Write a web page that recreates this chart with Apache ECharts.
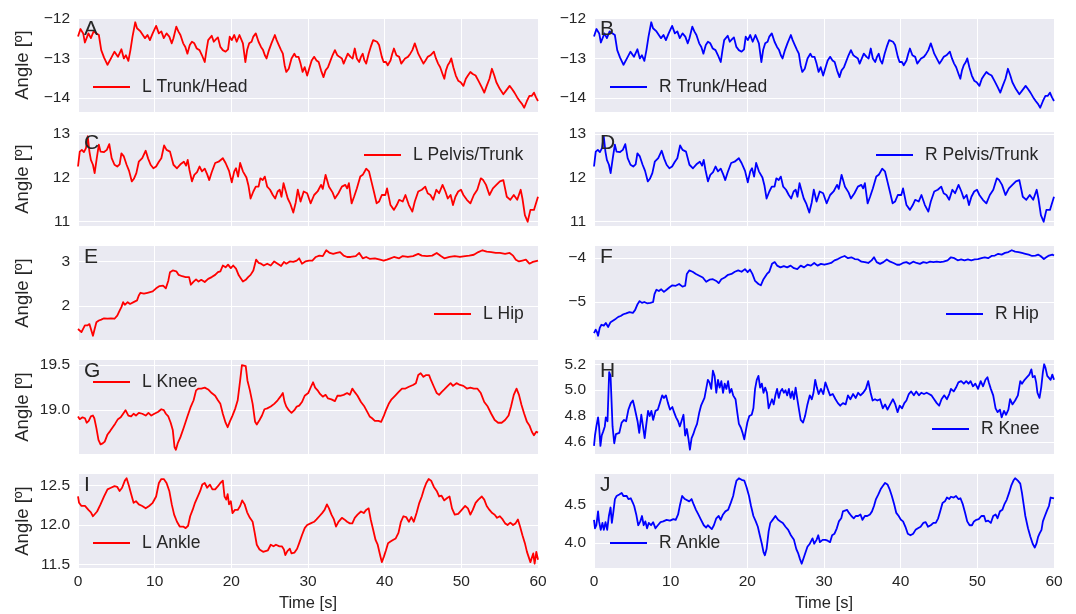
<!DOCTYPE html>
<html>
<head>
<meta charset="utf-8">
<title>Joint angles</title>
<script src="https://cdn.jsdelivr.net/npm/echarts@6/dist/echarts.min.js"></script>
<style>
  html, body { margin: 0; padding: 0; background: #ffffff; }
  #chart { width: 1076px; height: 614px; }
</style>
</head>
<body>
<div id="chart"></div>
<script>
// ---- Data: time stamps [s] and joint angles [deg] ----
const tTrunkHead = [0,0.32,0.68,0.9,1.36,1.68,2.04,2.26,2.72,3.03,3.4,3.85,4.3,4.76,5.21,5.43,5.66,5.98,6.25,6.57,6.84,7.11,7.47,7.7,7.93,8.15,8.38,8.74,9.06,9.38,9.74,10.19,10.55,10.87,11.19,11.55,11.91,12.23,12.45,12.82,13.09,13.36,13.72,14.0,14.27,14.58,14.86,15.17,15.49,15.85,16.17,16.53,16.76,16.98,17.21,17.44,17.71,17.98,18.25,18.57,18.89,19.25,19.57,19.79,20.06,20.38,20.7,21.06,21.29,21.51,21.83,22.06,22.33,22.64,22.87,23.19,23.55,23.87,24.14,24.37,24.59,24.91,25.23,25.68,25.91,26.18,26.49,26.72,26.95,27.17,27.49,27.85,28.22,28.44,28.76,29.03,29.3,29.57,29.89,30.21,30.48,30.8,31.11,31.39,31.7,32.02,32.29,32.61,32.84,33.2,33.51,33.83,34.1,34.42,34.65,34.87,35.19,35.55,35.82,36.1,36.37,36.68,36.91,37.14,37.36,37.59,37.91,38.18,38.5,38.72,39.0,39.27,39.63,39.86,40.17,40.4,40.76,40.99,41.21,41.53,41.89,42.16,42.35,42.66,43.03,43.34,43.61,43.93,44.16,44.38,44.7,45.06,45.33,45.61,45.97,46.2,46.42,46.69,46.97,47.24,47.55,47.78,48.0,48.23,48.5,48.69,48.96,49.28,49.59,49.91,50.27,50.59,50.86,51.18,51.49,51.86,52.22,52.67,52.99,53.31,53.67,53.99,54.3,54.57,55.03,55.48,55.84,56.3,56.61,56.93,57.29,57.61,57.93,58.2,58.56,58.88,59.2,59.47,59.74,60];
const lTrunkHead = [-12.45,-12.26,-12.37,-12.6,-12.37,-12.49,-12.32,-12.28,-12.41,-12.79,-12.98,-13.16,-13.0,-12.83,-12.96,-13.0,-12.77,-13.0,-12.92,-13.06,-12.79,-12.45,-12.09,-12.24,-12.2,-12.32,-12.28,-12.49,-12.41,-12.54,-12.37,-12.18,-12.37,-12.32,-12.49,-12.37,-12.45,-12.62,-12.49,-12.2,-12.32,-12.41,-12.62,-12.71,-12.88,-12.66,-12.58,-12.62,-12.75,-12.79,-12.92,-13.09,-12.79,-12.54,-12.49,-12.43,-12.58,-12.52,-12.47,-12.71,-12.79,-12.83,-12.77,-12.45,-12.54,-12.41,-12.58,-12.41,-12.37,-12.62,-13.09,-12.79,-12.62,-12.58,-12.45,-12.37,-12.58,-12.71,-12.79,-12.92,-13.0,-12.79,-12.62,-12.41,-12.54,-12.66,-12.79,-12.88,-13.17,-13.34,-13.26,-13.0,-12.88,-12.96,-12.96,-13.13,-13.34,-13.22,-13.43,-13.22,-13.05,-12.96,-13.05,-13.09,-13.3,-13.47,-13.3,-13.22,-13.17,-12.92,-12.79,-12.92,-12.96,-13.0,-13.13,-13.13,-12.88,-12.96,-13.0,-12.75,-13.0,-13.09,-12.96,-12.88,-13.05,-13.13,-12.88,-12.71,-12.54,-12.49,-12.58,-12.66,-12.96,-13.09,-13.09,-13.17,-13.05,-12.88,-12.75,-12.92,-12.96,-13.13,-13.17,-13.0,-12.96,-12.88,-12.79,-12.62,-12.75,-12.88,-13.0,-13.13,-13.05,-12.96,-12.92,-12.88,-12.83,-13.0,-13.13,-13.22,-13.39,-13.51,-13.3,-13.17,-13.09,-13.0,-13.22,-13.43,-13.56,-13.6,-13.69,-13.51,-13.43,-13.34,-13.39,-13.43,-13.56,-13.73,-13.86,-13.69,-13.51,-13.26,-13.43,-13.6,-13.77,-13.9,-13.81,-13.69,-13.77,-13.86,-13.98,-14.07,-14.15,-14.24,-14.07,-13.94,-13.94,-13.86,-13.98,-14.07];
const rTrunkHead = [-12.45,-12.26,-12.37,-12.6,-12.37,-12.49,-12.32,-12.28,-12.41,-12.79,-12.98,-13.16,-13.0,-12.83,-12.96,-13.0,-12.77,-13.0,-12.92,-13.06,-12.79,-12.45,-12.09,-12.24,-12.2,-12.32,-12.28,-12.49,-12.41,-12.54,-12.37,-12.18,-12.37,-12.32,-12.49,-12.37,-12.45,-12.62,-12.49,-12.2,-12.32,-12.41,-12.62,-12.71,-12.88,-12.66,-12.58,-12.62,-12.75,-12.79,-12.92,-13.09,-12.79,-12.54,-12.49,-12.43,-12.58,-12.52,-12.47,-12.71,-12.79,-12.83,-12.77,-12.45,-12.54,-12.41,-12.58,-12.41,-12.37,-12.62,-13.09,-12.79,-12.62,-12.58,-12.45,-12.37,-12.58,-12.71,-12.79,-12.92,-13.0,-12.79,-12.62,-12.41,-12.54,-12.66,-12.79,-12.88,-13.17,-13.34,-13.26,-13.0,-12.88,-12.96,-12.96,-13.13,-13.34,-13.22,-13.43,-13.22,-13.05,-12.96,-13.05,-13.09,-13.3,-13.47,-13.3,-13.22,-13.17,-12.92,-12.79,-12.92,-12.96,-13.0,-13.13,-13.13,-12.88,-12.96,-13.0,-12.75,-13.0,-13.09,-12.96,-12.88,-13.05,-13.13,-12.88,-12.71,-12.54,-12.49,-12.58,-12.66,-12.96,-13.09,-13.09,-13.17,-13.05,-12.88,-12.75,-12.92,-12.96,-13.13,-13.17,-13.0,-12.96,-12.88,-12.79,-12.62,-12.75,-12.88,-13.0,-13.13,-13.05,-12.96,-12.92,-12.88,-12.83,-13.0,-13.13,-13.22,-13.39,-13.51,-13.3,-13.17,-13.09,-13.0,-13.22,-13.43,-13.56,-13.6,-13.69,-13.51,-13.43,-13.34,-13.39,-13.43,-13.56,-13.73,-13.86,-13.69,-13.51,-13.26,-13.43,-13.6,-13.77,-13.9,-13.81,-13.69,-13.77,-13.86,-13.98,-14.07,-14.15,-14.24,-14.07,-13.94,-13.94,-13.86,-13.98,-14.07];

const tPelvisTrunk = [0,0.23,0.5,0.77,1.04,1.27,1.49,1.68,1.95,2.17,2.45,2.72,2.94,3.17,3.4,3.76,4.08,4.39,4.76,5.12,5.43,5.66,5.98,6.34,6.66,7.02,7.29,7.61,7.93,8.38,8.83,9.15,9.47,9.83,10.19,10.55,10.87,11.23,11.55,12.0,12.45,12.91,13.36,13.81,14.09,14.31,14.54,14.86,15.17,15.53,15.85,16.17,16.53,16.85,17.12,17.44,17.89,18.34,18.89,19.25,19.7,20.06,20.38,20.61,20.88,21.15,21.51,21.97,22.24,22.51,22.87,23.19,23.55,23.78,24.09,24.37,24.68,25.05,25.41,25.72,26.04,26.31,26.54,26.81,27.04,27.36,27.67,28.08,28.4,28.67,29.03,29.44,29.89,30.34,30.8,31.25,31.7,31.93,32.29,32.74,33.2,33.51,33.97,34.42,34.87,35.1,35.33,35.69,36.01,36.37,36.82,37.14,37.59,37.95,38.27,38.59,38.95,39.27,39.63,40.08,40.31,40.76,41.21,41.58,41.89,42.35,42.71,43.16,43.61,43.93,44.38,44.84,45.29,45.61,45.97,46.33,46.74,47.1,47.55,47.92,48.23,48.6,48.91,49.23,49.59,49.95,50.27,50.72,51.18,51.63,52.08,52.54,52.85,53.22,53.67,54.12,54.57,55.03,55.48,55.93,56.39,56.84,57.29,57.74,57.97,58.29,58.65,59.01,59.47,60];
const lPelvisTrunk = [12.26,12.6,12.64,12.59,12.68,12.95,12.6,12.41,12.3,12.11,12.45,12.76,12.6,12.64,12.59,12.64,12.77,12.45,12.3,12.26,12.31,12.56,12.49,12.3,12.16,11.92,11.98,12.11,12.37,12.45,12.62,12.44,12.3,12.22,12.26,12.37,12.45,12.74,12.64,12.6,12.3,12.22,12.31,12.37,12.28,12.41,12.18,11.92,12.07,12.13,12.26,12.15,12.21,12.08,11.95,12.13,12.34,12.37,12.45,12.34,12.16,11.9,12.15,12.22,12.03,12.34,12.15,12.01,11.82,11.53,11.69,11.8,11.8,11.99,11.95,12.03,11.8,11.73,11.61,11.53,11.69,11.73,11.57,11.88,11.73,11.53,11.42,11.21,11.44,11.73,11.46,11.69,11.65,11.42,11.61,11.69,11.84,11.75,12.07,11.8,11.67,11.53,11.65,11.8,11.84,11.76,11.88,11.42,11.57,11.76,12.03,12.07,12.21,12.15,11.92,11.69,11.42,11.46,11.61,11.61,11.76,11.38,11.27,11.38,11.5,11.46,11.61,11.38,11.23,11.46,11.69,11.73,11.8,11.65,11.61,11.5,11.73,11.65,11.84,11.69,11.53,11.61,11.38,11.57,11.69,11.73,11.61,11.5,11.42,11.61,11.73,11.99,11.95,11.84,11.61,11.76,11.84,11.92,11.95,11.57,11.5,11.61,11.5,11.73,11.53,11.15,11.0,11.27,11.27,11.57];
const rPelvisTrunk = [12.26,12.6,12.64,12.59,12.68,12.95,12.6,12.41,12.3,12.11,12.45,12.76,12.6,12.64,12.59,12.64,12.77,12.45,12.3,12.26,12.31,12.56,12.49,12.3,12.16,11.92,11.98,12.11,12.37,12.45,12.62,12.44,12.3,12.22,12.26,12.37,12.45,12.74,12.64,12.6,12.3,12.22,12.31,12.37,12.28,12.41,12.18,11.92,12.07,12.13,12.26,12.15,12.21,12.08,11.95,12.13,12.34,12.37,12.45,12.34,12.16,11.9,12.15,12.22,12.03,12.34,12.15,12.01,11.82,11.53,11.69,11.8,11.8,11.99,11.95,12.03,11.8,11.73,11.61,11.53,11.69,11.73,11.57,11.88,11.73,11.53,11.42,11.21,11.44,11.73,11.46,11.69,11.65,11.42,11.61,11.69,11.84,11.75,12.07,11.8,11.67,11.53,11.65,11.8,11.84,11.76,11.88,11.42,11.57,11.76,12.03,12.07,12.21,12.15,11.92,11.69,11.42,11.46,11.61,11.61,11.76,11.38,11.27,11.38,11.5,11.46,11.61,11.38,11.23,11.46,11.69,11.73,11.8,11.65,11.61,11.5,11.73,11.65,11.84,11.69,11.53,11.61,11.38,11.57,11.69,11.73,11.61,11.5,11.42,11.61,11.73,11.99,11.95,11.84,11.61,11.76,11.84,11.92,11.95,11.57,11.5,11.61,11.5,11.73,11.53,11.15,11.0,11.27,11.27,11.57];

const tLHip = [0,0.23,0.45,0.68,0.9,1.22,1.49,1.72,1.95,2.17,2.4,2.72,3.03,3.4,3.85,4.3,4.76,5.12,5.43,5.66,5.89,6.11,6.48,6.79,7.25,7.7,7.93,8.15,8.6,9.06,9.74,10.19,10.64,11.1,11.46,11.78,12.0,12.36,12.82,13.13,13.59,14.04,14.49,14.72,15.08,15.4,15.72,16.08,16.53,16.98,17.44,17.89,18.25,18.57,18.89,19.25,19.57,19.93,20.24,20.61,20.97,21.29,21.51,21.88,22.19,22.51,22.87,23.23,23.55,23.87,24.23,24.68,25.14,25.59,26.04,26.49,26.86,27.17,27.63,28.08,28.53,28.85,29.21,29.66,30.12,30.57,31.02,31.48,31.93,32.38,32.84,33.29,33.74,34.19,34.65,35.1,35.55,36.23,36.68,37.14,37.59,38.04,38.72,39.4,39.86,40.31,40.76,41.21,41.89,42.35,43.03,43.7,44.38,44.84,45.52,46.2,46.79,47.33,47.78,48.46,49.14,49.82,50.5,51.04,51.63,52.22,52.76,53.31,53.9,54.48,55.03,55.71,56.3,56.75,57.11,57.52,57.97,58.42,58.88,59.34,60];
const lHip = [1.49,1.53,1.42,1.46,1.57,1.57,1.6,1.64,1.34,1.49,1.64,1.68,1.7,1.73,1.72,1.73,1.72,1.79,1.9,1.98,2.09,2.03,2.09,2.05,2.09,2.13,2.24,2.3,2.28,2.3,2.33,2.4,2.45,2.46,2.4,2.57,2.76,2.8,2.78,2.7,2.67,2.65,2.65,2.48,2.55,2.6,2.55,2.59,2.54,2.61,2.65,2.7,2.76,2.78,2.91,2.87,2.93,2.85,2.91,2.84,2.69,2.61,2.55,2.59,2.65,2.7,2.8,3.04,2.97,2.95,2.91,2.95,2.91,3.0,2.95,2.9,2.99,2.95,3.0,2.99,3.02,3.07,2.95,3.0,3.02,3.02,3.1,3.13,3.12,3.25,3.19,3.17,3.19,3.21,3.13,3.1,3.1,3.12,3.19,3.07,3.1,3.06,3.07,3.04,3.02,3.04,3.07,3.1,3.07,3.12,3.1,3.12,3.17,3.13,3.12,3.13,3.19,3.12,3.07,3.1,3.12,3.1,3.12,3.13,3.15,3.21,3.25,3.22,3.21,3.19,3.19,3.17,3.19,3.13,3.04,3.0,3.02,3.04,2.95,2.99,3.02];

const tRHip = [0,0.22,0.4,0.53,0.75,0.97,1.28,1.54,1.85,2.16,2.51,2.86,3.17,3.48,3.83,4.19,4.63,5.07,5.37,5.68,5.95,6.26,6.56,6.92,7.36,7.71,7.89,8.15,8.46,8.77,9.12,9.47,9.82,10.22,10.66,11.1,11.54,11.89,12.11,12.42,12.86,13.3,13.74,14.19,14.63,15.07,15.51,15.95,16.26,16.61,17.05,17.49,17.93,18.37,18.81,19.25,19.69,20.04,20.35,20.66,21.01,21.45,21.76,22.11,22.56,22.86,23.22,23.57,23.88,24.32,24.76,25.2,25.64,26.08,26.52,26.96,27.4,27.84,28.28,28.72,29.16,29.6,30.04,30.48,30.93,31.37,31.81,32.25,32.69,33.13,33.57,34.01,34.45,34.89,35.33,35.77,36.21,36.52,36.87,37.31,37.75,38.19,38.63,39.07,39.52,39.87,40.31,40.75,41.19,41.63,42.07,42.51,42.95,43.39,43.83,44.27,44.71,45.15,45.59,46.12,46.56,47.0,47.44,47.89,48.33,48.77,49.21,49.65,50.09,50.53,50.97,51.41,51.85,52.29,52.73,53.17,53.61,54.05,54.49,54.93,55.37,55.81,56.26,56.7,57.14,57.58,57.93,58.24,58.68,58.99,59.34,59.78,60];
const rHip = [-5.71,-5.63,-5.69,-5.77,-5.59,-5.52,-5.54,-5.48,-5.57,-5.46,-5.42,-5.38,-5.34,-5.32,-5.28,-5.26,-5.23,-5.25,-5.18,-5.05,-4.98,-5.02,-5.0,-5.03,-5.02,-5.0,-4.82,-4.72,-4.75,-4.71,-4.77,-4.72,-4.67,-4.62,-4.63,-4.59,-4.65,-4.63,-4.36,-4.28,-4.31,-4.36,-4.4,-4.44,-4.54,-4.49,-4.48,-4.52,-4.57,-4.48,-4.44,-4.38,-4.36,-4.31,-4.28,-4.31,-4.25,-4.32,-4.26,-4.36,-4.52,-4.59,-4.62,-4.48,-4.36,-4.31,-4.13,-4.09,-4.17,-4.21,-4.18,-4.21,-4.17,-4.23,-4.25,-4.17,-4.21,-4.15,-4.17,-4.11,-4.17,-4.13,-4.15,-4.13,-4.11,-4.05,-4.02,-3.98,-3.95,-4.0,-3.98,-4.02,-4.03,-4.08,-4.09,-4.11,-4.05,-3.98,-4.09,-4.13,-4.09,-4.03,-4.08,-4.11,-4.15,-4.15,-4.11,-4.09,-4.13,-4.08,-4.11,-4.13,-4.09,-4.11,-4.08,-4.09,-4.08,-4.09,-4.08,-4.05,-3.98,-4.0,-4.05,-4.03,-4.05,-4.03,-4.05,-4.03,-4.02,-4.0,-3.98,-4.0,-3.95,-3.94,-3.9,-3.92,-3.88,-3.86,-3.82,-3.85,-3.86,-3.88,-3.9,-3.92,-3.95,-3.94,-3.92,-3.95,-4.02,-3.98,-3.94,-3.92,-3.94];

const tLKnee = [0,0.23,0.59,0.91,1.13,1.4,1.68,1.95,2.13,2.4,2.67,2.94,3.22,3.49,3.85,4.21,4.53,4.85,5.21,5.57,5.89,6.2,6.57,6.93,7.25,7.56,7.93,8.38,8.83,9.19,9.56,9.96,10.42,10.87,11.19,11.46,11.78,12.09,12.36,12.59,12.77,13.0,13.36,13.81,14.27,14.72,15.08,15.4,15.72,16.08,16.53,16.98,17.44,17.89,18.25,18.57,18.89,19.25,19.52,19.79,20.15,20.52,20.83,21.15,21.38,21.6,21.88,22.1,22.42,22.78,23.1,23.32,23.68,24.0,24.32,24.68,25.14,25.59,26.04,26.4,26.72,26.95,27.17,27.49,27.85,28.22,28.53,28.85,29.21,29.57,30.03,30.39,30.66,30.93,31.25,31.57,31.93,32.29,32.61,33.06,33.51,33.83,34.19,34.65,35.1,35.46,35.78,36.1,36.46,36.91,37.36,37.73,38.04,38.36,38.72,39.18,39.54,39.86,40.17,40.53,40.9,41.35,41.8,42.26,42.71,43.16,43.7,44.07,44.38,44.7,45.06,45.42,45.79,46.06,46.42,46.79,47.1,47.42,47.78,48.23,48.6,48.91,49.37,49.82,50.27,50.72,51.18,51.63,52.08,52.54,52.99,53.44,53.9,54.35,54.8,55.26,55.71,56.16,56.48,56.84,57.2,57.52,57.84,58.2,58.56,58.88,59.2,59.47,59.78,60];
const lKnee = [18.93,18.9,18.92,18.91,18.86,18.88,18.93,18.94,18.91,18.8,18.67,18.62,18.63,18.65,18.73,18.77,18.81,18.85,18.9,18.92,18.96,19.0,18.94,18.93,18.96,18.94,18.97,18.96,18.94,18.97,18.94,18.96,18.98,19.01,19.0,18.96,18.93,18.86,18.78,18.59,18.56,18.63,18.7,18.81,18.93,19.04,19.11,19.22,19.24,19.24,19.25,19.23,19.19,19.16,19.11,19.07,18.96,18.86,18.81,18.87,18.94,19.02,19.11,19.33,19.5,19.51,19.49,19.33,19.22,19.07,18.87,18.84,18.89,18.94,19.01,19.02,19.04,19.07,19.11,19.15,19.19,19.09,19.04,19.0,18.97,19.0,19.04,19.05,19.09,19.16,19.19,19.26,19.31,19.25,19.22,19.18,19.15,19.17,19.13,19.12,19.1,19.16,19.16,19.17,19.19,19.17,19.24,19.2,19.16,19.09,19.04,18.98,18.93,18.91,18.88,18.88,18.87,18.93,19.0,19.07,19.12,19.16,19.2,19.24,19.24,19.26,19.28,19.3,19.39,19.41,19.37,19.39,19.39,19.33,19.26,19.19,19.17,19.2,19.23,19.27,19.3,19.27,19.3,19.28,19.27,19.24,19.25,19.24,19.24,19.19,19.09,19.04,18.96,18.89,18.86,18.86,18.89,18.94,19.04,19.17,19.24,19.17,19.06,18.96,18.87,18.83,18.76,18.72,18.76,18.75];

const tRKnee = [0,0.13,0.31,0.53,0.66,0.84,1.01,1.19,1.41,1.54,1.76,1.98,2.16,2.42,2.64,2.86,3.08,3.3,3.61,3.92,4.19,4.49,4.8,5.07,5.24,5.46,5.68,5.9,6.17,6.39,6.61,6.83,7.05,7.27,7.49,7.71,8.02,8.33,8.59,8.9,9.12,9.38,9.65,9.91,10.22,10.44,10.7,10.97,11.19,11.41,11.67,11.89,12.11,12.33,12.51,12.73,12.95,13.17,13.44,13.74,13.96,14.19,14.41,14.63,14.85,15.07,15.29,15.51,15.73,15.95,16.17,16.39,16.61,16.83,17.05,17.27,17.49,17.71,17.93,18.15,18.46,18.68,18.9,19.16,19.38,19.6,19.78,20.0,20.26,20.57,20.79,21.01,21.23,21.45,21.67,21.89,22.11,22.33,22.56,22.78,23.0,23.22,23.44,23.66,23.88,24.1,24.32,24.54,24.76,24.98,25.2,25.42,25.64,25.86,26.08,26.3,26.52,26.74,26.96,27.27,27.53,27.84,28.15,28.41,28.63,28.85,29.07,29.3,29.6,29.91,30.18,30.48,30.79,31.15,31.5,31.81,32.11,32.47,32.82,33.13,33.44,33.79,34.14,34.45,34.76,35.11,35.46,35.77,36.08,36.34,36.65,36.96,37.31,37.67,37.97,38.28,38.63,38.99,39.3,39.6,39.87,40.18,40.48,40.75,41.06,41.37,41.72,42.03,42.38,42.69,43.04,43.39,43.7,44.01,44.36,44.71,45.02,45.33,45.68,46.04,46.34,46.56,46.92,47.22,47.53,47.89,48.24,48.55,48.85,49.12,49.43,49.74,50.09,50.44,50.75,51.06,51.32,51.5,51.76,52.07,52.38,52.64,52.95,53.17,53.48,53.74,54.05,54.27,54.58,54.93,55.29,55.6,55.82,56.17,56.48,56.78,57.05,57.22,57.49,57.67,57.84,58.11,58.33,58.55,58.72,58.9,59.12,59.34,59.56,59.78,60];
const rKnee = [4.57,4.65,4.72,4.79,4.72,4.57,4.65,4.68,4.72,4.79,4.76,5.14,5.11,4.72,4.59,4.66,4.65,4.67,4.75,4.77,4.76,4.85,4.9,4.92,4.88,4.88,4.76,4.67,4.81,4.72,4.63,4.74,4.84,4.8,4.84,4.77,4.84,4.85,4.9,4.96,4.94,4.96,4.9,4.85,4.87,4.83,4.79,4.76,4.72,4.76,4.81,4.65,4.7,4.62,4.54,4.63,4.66,4.7,4.74,4.83,4.88,4.87,4.94,5.01,5.08,5.06,5.01,5.15,5.11,4.98,5.08,5.02,5.07,4.98,5.05,5.01,5.07,4.98,5.01,4.96,4.93,4.83,4.74,4.71,4.67,4.62,4.68,4.75,4.8,4.81,4.86,5.01,5.08,5.11,5.02,5.05,4.98,5.02,4.98,4.86,4.85,4.93,4.89,4.96,5.01,4.94,4.99,5.01,4.98,5.0,4.96,5.01,4.94,4.99,4.93,5.02,4.93,4.85,4.77,4.75,4.8,4.89,4.96,4.93,4.98,5.08,5.02,4.97,5.01,4.97,5.06,5.01,4.96,4.97,4.93,4.9,4.88,4.9,4.89,4.96,4.93,4.97,4.94,4.98,4.96,4.98,5.01,5.07,4.98,4.92,4.93,4.92,4.93,4.86,4.89,4.85,4.89,4.93,4.89,4.83,4.88,4.86,4.9,4.92,4.97,4.99,4.96,4.99,4.96,4.98,4.97,4.98,4.97,4.96,4.93,4.9,4.88,4.93,4.96,4.93,4.97,5.01,4.99,5.02,5.06,5.07,5.05,5.07,5.05,5.07,5.03,5.05,5.01,5.07,5.03,5.08,5.1,5.06,5.01,4.96,4.86,4.83,4.85,4.79,4.84,4.81,4.85,4.93,4.89,4.92,4.96,5.07,5.05,5.08,5.1,5.12,5.16,5.1,5.11,5.06,4.98,4.94,5.02,5.14,5.2,5.17,5.11,5.12,5.08,5.12,5.08];

const tLAnkle = [0,0.14,0.45,0.91,1.36,1.68,1.95,2.13,2.49,2.94,3.4,3.85,4.3,4.76,5.12,5.43,5.75,6.11,6.34,6.66,6.93,7.25,7.56,7.93,8.38,8.83,9.28,9.74,10.19,10.55,10.87,11.19,11.55,11.91,12.23,12.54,12.91,13.27,13.72,14.04,14.36,14.63,14.95,15.26,15.63,15.94,16.21,16.53,16.85,17.21,17.53,17.89,18.25,18.57,18.89,19.11,19.34,19.52,19.7,19.93,20.15,20.47,20.83,21.15,21.42,21.74,22.06,22.42,22.78,23.05,23.32,23.68,24.14,24.46,24.77,25.14,25.5,25.82,26.27,26.59,26.86,27.04,27.31,27.63,27.85,28.22,28.58,28.85,29.21,29.57,29.89,30.34,30.8,31.11,31.48,31.84,32.16,32.47,32.74,33.06,33.38,33.65,33.97,34.42,34.74,35.1,35.46,35.78,36.1,36.46,36.91,37.27,37.59,37.91,38.18,38.5,38.81,39.09,39.4,39.63,39.9,40.17,40.44,40.76,41.08,41.44,41.8,42.12,42.44,42.8,43.16,43.48,43.8,44.16,44.52,44.84,45.15,45.43,45.74,46.06,46.42,46.79,47.1,47.42,47.78,48.15,48.46,48.78,49.14,49.59,50.05,50.5,50.86,51.18,51.49,51.86,52.22,52.67,52.99,53.31,53.67,54.03,54.35,54.66,55.03,55.39,55.71,56.03,56.39,56.75,57.07,57.38,57.66,57.97,58.29,58.56,58.79,59.01,59.2,59.38,59.56,59.78,60];
const lAnkle = [12.36,12.28,12.24,12.24,12.19,12.16,12.11,12.12,12.17,12.26,12.36,12.45,12.47,12.49,12.48,12.43,12.47,12.56,12.59,12.49,12.39,12.28,12.3,12.26,12.24,12.21,12.24,12.28,12.36,12.53,12.58,12.58,12.53,12.43,12.26,12.13,12.04,11.98,11.98,11.96,11.99,12.11,12.19,12.28,12.36,12.43,12.51,12.53,12.47,12.51,12.45,12.45,12.49,12.53,12.56,12.36,12.32,12.39,12.26,12.3,12.15,12.19,12.19,12.24,12.31,12.26,12.16,12.09,12.04,11.9,11.75,11.69,11.66,11.67,11.68,11.75,11.73,11.75,11.73,11.73,11.69,11.62,11.67,11.7,11.64,11.65,11.7,11.77,11.87,11.96,12.0,12.02,12.04,12.07,12.11,12.15,12.19,12.26,12.21,12.13,12.07,11.98,12.04,12.09,12.07,12.04,12.02,12.02,12.09,12.13,12.17,12.15,12.19,12.21,12.07,11.94,11.81,11.75,11.62,11.53,11.6,11.68,11.77,11.79,11.81,11.83,11.9,12.04,12.11,12.1,12.04,12.1,12.04,12.15,12.28,12.36,12.46,12.53,12.58,12.56,12.48,12.43,12.36,12.37,12.31,12.34,12.36,12.21,12.13,12.14,12.19,12.24,12.21,12.13,12.19,12.28,12.32,12.36,12.32,12.24,12.19,12.15,12.13,12.09,12.11,12.07,12.02,12.0,12.03,12.0,12.02,12.07,11.98,11.87,11.77,11.66,11.66,11.53,11.51,11.64,11.51,11.66,11.56];

const tRAnkle = [0,0.13,0.31,0.53,0.66,0.88,1.1,1.28,1.5,1.72,1.94,2.16,2.33,2.51,2.73,2.95,3.3,3.61,3.83,4.05,4.27,4.49,4.8,5.07,5.24,5.51,5.77,6.04,6.26,6.48,6.7,6.92,7.14,7.44,7.71,8.02,8.33,8.68,9.03,9.47,9.91,10.35,10.66,10.97,11.23,11.5,11.67,11.85,12.11,12.42,12.73,13.0,13.3,13.61,13.96,14.32,14.63,14.85,15.07,15.37,15.64,15.95,16.26,16.52,16.83,17.14,17.49,17.84,18.15,18.37,18.59,18.9,19.25,19.6,19.91,20.22,20.48,20.79,21.1,21.37,21.67,21.89,22.11,22.29,22.51,22.78,23.0,23.3,23.66,24.01,24.32,24.63,24.98,25.33,25.68,26.08,26.39,26.65,26.87,27.09,27.27,27.53,27.84,28.15,28.5,28.72,29.03,29.25,29.47,29.82,30.18,30.48,30.79,31.06,31.37,31.67,31.94,32.25,32.47,32.69,33.0,33.26,33.57,33.88,34.14,34.45,34.76,35.02,35.33,35.64,35.99,36.26,36.52,36.78,37.09,37.4,37.67,37.97,38.28,38.55,38.85,39.16,39.43,39.74,40.04,40.31,40.62,40.93,41.28,41.63,41.94,42.25,42.6,42.95,43.26,43.57,43.92,44.27,44.58,44.89,45.15,45.46,45.77,46.04,46.34,46.56,46.92,47.22,47.53,47.8,48.11,48.41,48.68,48.99,49.3,49.56,49.87,50.18,50.53,50.88,51.1,51.41,51.76,52.07,52.38,52.64,52.95,53.26,53.52,53.83,54.14,54.41,54.71,54.93,55.29,55.6,55.82,56.04,56.26,56.61,56.92,57.22,57.49,57.71,57.93,58.11,58.37,58.55,58.81,59.12,59.34,59.56,59.78,60];
const rAnkle = [4.3,4.19,4.23,4.41,4.28,4.17,4.26,4.17,4.27,4.17,4.35,4.46,4.26,4.39,4.57,4.61,4.63,4.65,4.61,4.63,4.61,4.57,4.58,4.52,4.48,4.37,4.23,4.28,4.35,4.23,4.28,4.19,4.26,4.23,4.27,4.19,4.23,4.27,4.28,4.3,4.29,4.31,4.3,4.37,4.5,4.61,4.63,4.57,4.59,4.54,4.57,4.5,4.43,4.37,4.3,4.23,4.2,4.23,4.21,4.18,4.23,4.32,4.35,4.3,4.37,4.41,4.43,4.52,4.61,4.72,4.81,4.84,4.82,4.81,4.72,4.61,4.48,4.35,4.28,4.21,4.08,3.99,3.88,3.84,3.92,4.15,4.26,4.3,4.35,4.3,4.28,4.26,4.21,4.17,4.1,4.04,3.92,3.86,3.79,3.73,3.75,3.86,3.95,3.99,4.06,3.99,4.04,4.1,4.01,4.04,4.04,4.03,4.01,4.1,4.12,4.19,4.28,4.32,4.41,4.43,4.43,4.39,4.35,4.32,4.35,4.35,4.37,4.3,4.35,4.35,4.37,4.41,4.48,4.57,4.63,4.7,4.74,4.78,4.76,4.7,4.61,4.5,4.39,4.35,4.3,4.28,4.21,4.12,4.1,4.12,4.17,4.19,4.21,4.26,4.27,4.21,4.23,4.26,4.26,4.32,4.41,4.52,4.54,4.59,4.57,4.6,4.59,4.61,4.57,4.58,4.5,4.39,4.28,4.23,4.23,4.28,4.3,4.31,4.35,4.35,4.28,4.29,4.26,4.35,4.37,4.32,4.41,4.43,4.5,4.56,4.65,4.74,4.81,4.84,4.81,4.77,4.65,4.5,4.35,4.19,4.08,3.99,3.94,3.99,4.08,4.12,4.17,4.28,4.35,4.43,4.48,4.59,4.61,4.58];

// ---- Tick labels ----
const timeTicks = [0, 10, 20, 30, 40, 50, 60];
const ticksTrunkHead = [-14, -13, -12];
const ticksPelvisTrunk = [11, 12, 13];
const ticksLHip = [2, 3];
const ticksRHip = [-5, -4];
const ticksLKnee = [19.0, 19.5];
const ticksRKnee = [4.6, 4.8, 5.0, 5.2];
const ticksLAnkle = [11.5, 12.0, 12.5];
const ticksRAnkle = [4.0, 4.5];

// ---- Layout ----
const FONT = '"Liberation Sans", Arial, Helvetica, sans-serif';
const INK = '#262626';
const RED = '#ff0000';
const BLUE = '#0000ff';
const COL_LEFT = [78, 594];
const PLOT_W = 460;
const ROW_TOP = [18, 132, 246, 360, 474];
const PLOT_H = 94;

const panels = [
  { letter: 'A', name: 'L Trunk/Head',   t: tTrunkHead,   v: lTrunkHead,   ticks: ticksTrunkHead,   dec: 0, col: 0, row: 0, color: RED,  lg: [93, 87] },
  { letter: 'B', name: 'R Trunk/Head',   t: tTrunkHead,   v: rTrunkHead,   ticks: ticksTrunkHead,   dec: 0, col: 1, row: 0, color: BLUE, lg: [610, 87] },
  { letter: 'C', name: 'L Pelvis/Trunk', t: tPelvisTrunk, v: lPelvisTrunk, ticks: ticksPelvisTrunk, dec: 0, col: 0, row: 1, color: RED,  lg: [364, 155] },
  { letter: 'D', name: 'R Pelvis/Trunk', t: tPelvisTrunk, v: rPelvisTrunk, ticks: ticksPelvisTrunk, dec: 0, col: 1, row: 1, color: BLUE, lg: [876, 155] },
  { letter: 'E', name: 'L Hip',          t: tLHip,        v: lHip,         ticks: ticksLHip,        dec: 0, col: 0, row: 2, color: RED,  lg: [434, 314] },
  { letter: 'F', name: 'R Hip',          t: tRHip,        v: rHip,         ticks: ticksRHip,        dec: 0, col: 1, row: 2, color: BLUE, lg: [946, 314] },
  { letter: 'G', name: 'L Knee',         t: tLKnee,       v: lKnee,        ticks: ticksLKnee,       dec: 1, col: 0, row: 3, color: RED,  lg: [93, 382] },
  { letter: 'H', name: 'R Knee',         t: tRKnee,       v: rKnee,        ticks: ticksRKnee,       dec: 1, col: 1, row: 3, color: BLUE, lg: [932, 429] },
  { letter: 'I', name: 'L Ankle',        t: tLAnkle,      v: lAnkle,       ticks: ticksLAnkle,      dec: 1, col: 0, row: 4, color: RED,  lg: [93, 543] },
  { letter: 'J', name: 'R Ankle',        t: tRAnkle,      v: rAnkle,       ticks: ticksRAnkle,      dec: 1, col: 1, row: 4, color: BLUE, lg: [610, 543] }
];

// Axis limits with a 5 % margin around the data, like an autoscaled plot
function paddedRange(values) {
  const lo = Math.min(...values), hi = Math.max(...values);
  const m = (hi - lo) * 0.05;
  return [lo - m, hi + m];
}
function tickText(value, dec) {
  const s = dec ? value.toFixed(dec) : String(Math.round(value));
  return s.replace('-', '\u2212');
}

const grids = [], xAxes = [], yAxes = [], series = [], legends = [], letters = [];

panels.forEach((p, i) => {
  const left = COL_LEFT[p.col], top = ROW_TOP[p.row];
  const bottomRow = p.row === 4;
  const [yMin, yMax] = paddedRange(p.v);

  grids.push({
    left: left, top: top, width: PLOT_W, height: PLOT_H,
    show: true, backgroundColor: '#eaeaf2', borderWidth: 0,
    containLabel: false, outerBoundsMode: 'none'
  });

  xAxes.push({
    type: 'value', gridIndex: i, min: 0, max: 60, interval: 10,
    axisLine: { show: false }, axisTick: { show: false },
    splitLine: { show: true, lineStyle: { color: '#ffffff', width: 1 } },
    axisLabel: {
      show: bottomRow, margin: 6, fontSize: 15.5, color: INK, fontFamily: FONT,
      customValues: timeTicks
    },
    name: bottomRow ? 'Time [s]' : '',
    nameLocation: 'middle', nameGap: 27,
    nameTextStyle: { fontSize: 16.5, color: INK, fontFamily: FONT }
  });

  yAxes.push({
    type: 'value', gridIndex: i, min: yMin, max: yMax, scale: true,
    axisLine: { show: false },
    axisTick: { show: false, customValues: p.ticks },
    splitLine: { show: true, lineStyle: { color: '#ffffff', width: 1 } },
    axisLabel: {
      margin: 8, fontSize: 15.5, color: INK, fontFamily: FONT,
      customValues: p.ticks,
      formatter: (val) => tickText(val, p.dec)
    },
    name: p.col === 0 ? 'Angle [\u00ba]' : '',
    nameLocation: 'middle', nameGap: 46,
    nameTextStyle: { fontSize: 18.5, color: INK, fontFamily: FONT }
  });

  const n = Math.min(p.t.length, p.v.length);
  const pts = [];
  for (let k = 0; k < n; k++) pts.push([p.t[k], p.v[k]]);

  series.push({
    name: p.name, type: 'line', xAxisIndex: i, yAxisIndex: i,
    data: pts, symbol: 'none', showSymbol: false, smooth: false,
    lineStyle: { color: p.color, width: 1.8, join: 'round' },
    itemStyle: { color: p.color },
    emphasis: { disabled: true },
    animation: false, z: 3
  });

  legends.push({
    data: [p.name], left: p.lg[0], top: p.lg[1] - 10, padding: 0,
    icon: 'rect', itemWidth: 37, itemHeight: 2, selectedMode: false,
    textStyle: { fontSize: 17.5, color: INK, fontFamily: FONT, lineHeight: 20, padding: [0, 0, 0, 7] }
  });

  letters.push({
    type: 'text', left: left + 6, top: top + 1, z: 10,
    style: { text: p.letter, fill: INK, font: '21px ' + FONT }
  });
});

const chart = echarts.init(document.getElementById('chart'), null, { renderer: 'canvas' });
chart.setOption({
  backgroundColor: '#ffffff',
  animation: false,
  textStyle: { fontFamily: FONT },
  grid: grids,
  xAxis: xAxes,
  yAxis: yAxes,
  series: series,
  legend: legends,
  graphic: letters,
  tooltip: { show: false }
});
</script>
</body>
</html>
